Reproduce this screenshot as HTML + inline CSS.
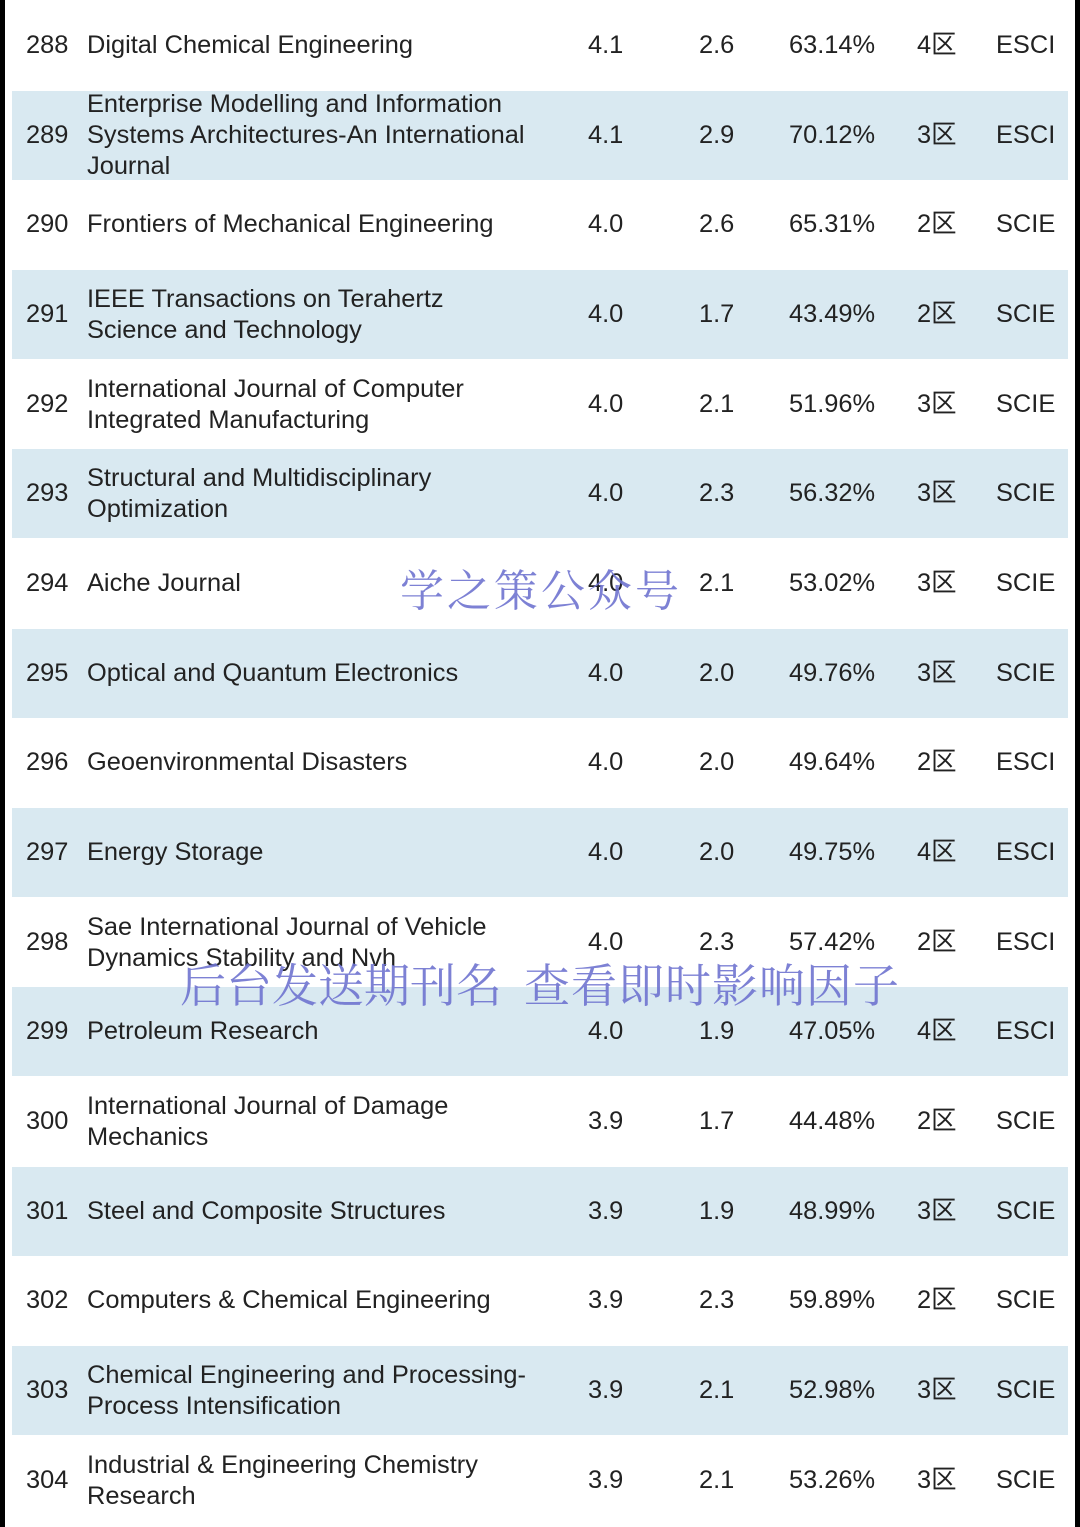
<!DOCTYPE html>
<html><head><meta charset="utf-8"><style>
html,body{margin:0;padding:0}
body{width:1080px;height:1527px;position:relative;background:#fff;overflow:hidden;font-family:"Liberation Sans","Noto Sans CJK SC",sans-serif;font-size:25.4px;color:#222}
.bl{position:absolute;top:0;left:0;width:5px;height:1527px;background:#000}
.br{position:absolute;top:0;right:0;width:5px;height:1527px;background:#000}
.row{position:absolute;left:12px;width:1056px;height:89px}
.row.s{background:#d9e9f1}
.c{position:absolute;top:0;height:89px;display:flex;align-items:center;line-height:31px;white-space:nowrap}
.n{left:14px}.t{left:75px}.i{left:576px}.j{left:687px}.p{left:777px}.q{left:905px}.e{left:984px}
.w{position:absolute;font-family:"Noto Serif CJK SC","WenQuanYi Zen Hei",serif;color:#6f74d0;opacity:.9;white-space:nowrap;line-height:1}
</style></head><body>
<div class="bl"></div><div class="br"></div>

<div class="row" style="top:1px"><div class="c n">288</div><div class="c t">Digital Chemical Engineering</div><div class="c i">4.1</div><div class="c j">2.6</div><div class="c p">63.14%</div><div class="c q">4区</div><div class="c e">ESCI</div></div>
<div class="row s" style="top:91px"><div class="c n">289</div><div class="c t">Enterprise Modelling and Information<br>Systems Architectures-An International<br>Journal</div><div class="c i">4.1</div><div class="c j">2.9</div><div class="c p">70.12%</div><div class="c q">3区</div><div class="c e">ESCI</div></div>
<div class="row" style="top:180px"><div class="c n">290</div><div class="c t">Frontiers of Mechanical Engineering</div><div class="c i">4.0</div><div class="c j">2.6</div><div class="c p">65.31%</div><div class="c q">2区</div><div class="c e">SCIE</div></div>
<div class="row s" style="top:270px"><div class="c n">291</div><div class="c t">IEEE Transactions on Terahertz<br>Science and Technology</div><div class="c i">4.0</div><div class="c j">1.7</div><div class="c p">43.49%</div><div class="c q">2区</div><div class="c e">SCIE</div></div>
<div class="row" style="top:360px"><div class="c n">292</div><div class="c t">International Journal of Computer<br>Integrated Manufacturing</div><div class="c i">4.0</div><div class="c j">2.1</div><div class="c p">51.96%</div><div class="c q">3区</div><div class="c e">SCIE</div></div>
<div class="row s" style="top:449px"><div class="c n">293</div><div class="c t">Structural and Multidisciplinary<br>Optimization</div><div class="c i">4.0</div><div class="c j">2.3</div><div class="c p">56.32%</div><div class="c q">3区</div><div class="c e">SCIE</div></div>
<div class="row" style="top:539px"><div class="c n">294</div><div class="c t">Aiche Journal</div><div class="c i">4.0</div><div class="c j">2.1</div><div class="c p">53.02%</div><div class="c q">3区</div><div class="c e">SCIE</div></div>
<div class="row s" style="top:629px"><div class="c n">295</div><div class="c t">Optical and Quantum Electronics</div><div class="c i">4.0</div><div class="c j">2.0</div><div class="c p">49.76%</div><div class="c q">3区</div><div class="c e">SCIE</div></div>
<div class="row" style="top:718px"><div class="c n">296</div><div class="c t">Geoenvironmental Disasters</div><div class="c i">4.0</div><div class="c j">2.0</div><div class="c p">49.64%</div><div class="c q">2区</div><div class="c e">ESCI</div></div>
<div class="row s" style="top:808px"><div class="c n">297</div><div class="c t">Energy Storage</div><div class="c i">4.0</div><div class="c j">2.0</div><div class="c p">49.75%</div><div class="c q">4区</div><div class="c e">ESCI</div></div>
<div class="row" style="top:898px"><div class="c n">298</div><div class="c t">Sae International Journal of Vehicle<br>Dynamics Stability and Nvh</div><div class="c i">4.0</div><div class="c j">2.3</div><div class="c p">57.42%</div><div class="c q">2区</div><div class="c e">ESCI</div></div>
<div class="row s" style="top:987px"><div class="c n">299</div><div class="c t">Petroleum Research</div><div class="c i">4.0</div><div class="c j">1.9</div><div class="c p">47.05%</div><div class="c q">4区</div><div class="c e">ESCI</div></div>
<div class="row" style="top:1077px"><div class="c n">300</div><div class="c t">International Journal of Damage<br>Mechanics</div><div class="c i">3.9</div><div class="c j">1.7</div><div class="c p">44.48%</div><div class="c q">2区</div><div class="c e">SCIE</div></div>
<div class="row s" style="top:1167px"><div class="c n">301</div><div class="c t">Steel and Composite Structures</div><div class="c i">3.9</div><div class="c j">1.9</div><div class="c p">48.99%</div><div class="c q">3区</div><div class="c e">SCIE</div></div>
<div class="row" style="top:1256px"><div class="c n">302</div><div class="c t">Computers &amp; Chemical Engineering</div><div class="c i">3.9</div><div class="c j">2.3</div><div class="c p">59.89%</div><div class="c q">2区</div><div class="c e">SCIE</div></div>
<div class="row s" style="top:1346px"><div class="c n">303</div><div class="c t">Chemical Engineering and Processing-<br>Process Intensification</div><div class="c i">3.9</div><div class="c j">2.1</div><div class="c p">52.98%</div><div class="c q">3区</div><div class="c e">SCIE</div></div>
<div class="row" style="top:1436px"><div class="c n">304</div><div class="c t">Industrial &amp; Engineering Chemistry<br>Research</div><div class="c i">3.9</div><div class="c j">2.1</div><div class="c p">53.26%</div><div class="c q">3区</div><div class="c e">SCIE</div></div>

<div class="w" style="left:400px;top:565px;font-size:44px;letter-spacing:3px">学之策公众号</div>
<div class="w" style="left:180px;top:960px;font-size:46px;letter-spacing:0px">后台发送期刊名</div>
<div class="w" style="left:524px;top:960px;font-size:46px;letter-spacing:1px">查看即时影响因子</div>
</body></html>
